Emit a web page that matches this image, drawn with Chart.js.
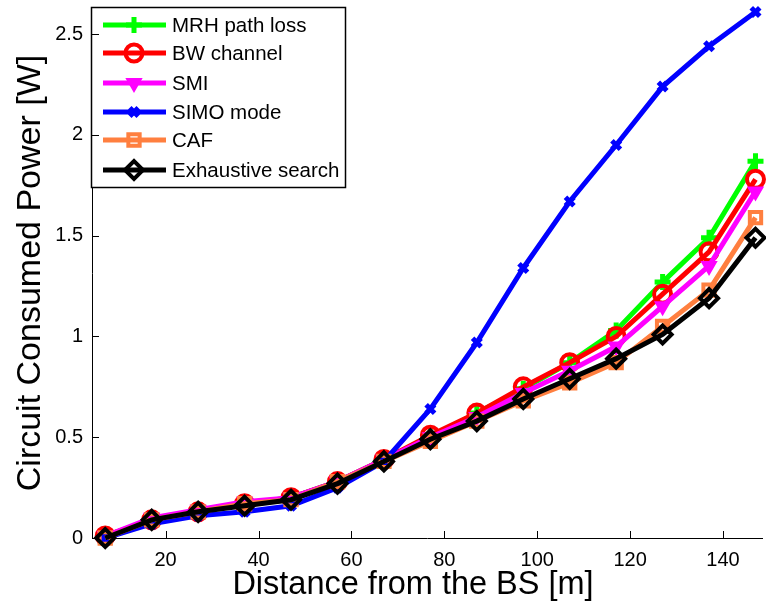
<!DOCTYPE html>
<html>
<head>
<meta charset="utf-8">
<script src="https://cdn.jsdelivr.net/npm/chart.js@4.4.1/dist/chart.umd.min.js"></script>
<style>
    body { margin: 0; background: #fff; }
    #wrap { width: 766px; height: 607px; }
</style>
</head>
<body>
<div id="wrap"><canvas id="power" width="766" height="607"></canvas></div>
<script>
// distance from the BS [m]
var distance = [7, 17, 27, 37, 47, 57, 67, 77, 87, 97, 107, 117, 127, 137, 147];

var mrhPathLoss = [0.01, 0.09, 0.13, 0.17, 0.20, 0.28, 0.39, 0.50, 0.62, 0.74, 0.87, 1.03, 1.27, 1.49, 1.87];
var bwChannel   = [0.01, 0.09, 0.13, 0.17, 0.20, 0.28, 0.39, 0.51, 0.62, 0.75, 0.87, 1.00, 1.21, 1.42, 1.78];
var smi         = [0.01, 0.10, 0.14, 0.18, 0.20, 0.28, 0.39, 0.50, 0.60, 0.72, 0.83, 0.95, 1.15, 1.35, 1.72];
var simoMode    = [0.00, 0.07, 0.11, 0.13, 0.16, 0.25, 0.38, 0.64, 0.97, 1.34, 1.67, 1.95, 2.24, 2.44, 2.61];
var caf         = [0.00, 0.09, 0.13, 0.17, 0.19, 0.28, 0.38, 0.48, 0.58, 0.68, 0.77, 0.87, 1.05, 1.23, 1.59];
var exhaustive  = [0.00, 0.09, 0.13, 0.16, 0.19, 0.27, 0.38, 0.49, 0.58, 0.69, 0.79, 0.89, 1.01, 1.19, 1.49];

var xTicks = [20, 40, 60, 80, 100, 120, 140];
var yTicks = [0, 0.5, 1, 1.5, 2, 2.5];

var xTitle = "Distance from the BS [m]";
var yTitle = "Circuit Consumed Power [W]";

var FONT = "'Liberation Sans', Arial, Helvetica, sans-serif";

function toPoints(ys) {
    return ys.map((y, i) => ({ x: distance[i], y: y }));
}

function series(label, values, color, style, extra) {
    var ds = {
        label: label,
        data: toPoints(values),
        borderColor: color,
        backgroundColor: color,
        borderWidth: 5,
        pointStyle: style,
        pointRadius: 8,
        pointBorderColor: color,
        pointBackgroundColor: "rgba(0,0,0,0)",
        pointBorderWidth: 3,
        tension: 0,
    };
    return Object.assign(ds, extra || {});
}

// legend drawn inside the axes, like the matlab one
var boxLegend = {
    id: "boxLegend",
    afterDatasetsDraw(chart) {
        var ctx = chart.ctx;
        var left = 91.5, top = 7.5, right = 345.5, bottom = 187.5;
        ctx.save();
        ctx.fillStyle = "#fff";
        ctx.fillRect(left, top, right - left, bottom - top);
        ctx.strokeStyle = "#000";
        ctx.lineWidth = 1.5;
        ctx.strokeRect(left, top, right - left, bottom - top);
        var rows = [25, 53, 83, 112, 140, 170];
        chart.data.datasets.forEach((ds, i) => {
            var y = rows[i];
            ctx.strokeStyle = ds.borderColor;
            ctx.lineWidth = ds.borderWidth;
            ctx.beginPath();
            ctx.moveTo(103, y);
            ctx.lineTo(166, y);
            ctx.stroke();
            ctx.fillStyle = ds.pointBackgroundColor;
            ctx.strokeStyle = ds.pointBorderColor;
            ctx.lineWidth = ds.pointBorderWidth;
            if (Chart.helpers && Chart.helpers.drawPoint) {
                Chart.helpers.drawPoint(ctx, {
                    pointStyle: ds.pointStyle,
                    radius: ds.pointRadius,
                    rotation: ds.pointRotation || 0,
                    borderWidth: ds.pointBorderWidth,
                }, 134, y);
            }
            ctx.fillStyle = "#000";
            ctx.font = "20.5px " + FONT;
            ctx.textBaseline = "middle";
            ctx.textAlign = "left";
            ctx.fillText(ds.label, 172, y + 1);
        });
        ctx.restore();
    },
};

// matlab style inward tick marks + x axis label
var axisExtras = {
    id: "axisExtras",
    afterDraw(chart) {
        var ctx = chart.ctx, area = chart.chartArea;
        var xs = chart.scales.x, ys = chart.scales.y;
        ctx.save();
        ctx.strokeStyle = "#000";
        ctx.lineWidth = 1;
        ctx.beginPath();
        xTicks.forEach((v) => {
            var px = Math.round(xs.getPixelForValue(v)) + 0.5;
            ctx.moveTo(px, area.bottom);
            ctx.lineTo(px, area.bottom - 7);
        });
        yTicks.forEach((v) => {
            var py = Math.round(ys.getPixelForValue(v)) + 0.5;
            ctx.moveTo(area.left, py);
            ctx.lineTo(area.left + 7, py);
        });
        ctx.stroke();
        ctx.fillStyle = "#000";
        ctx.font = "32.5px " + FONT;
        ctx.textAlign = "center";
        ctx.textBaseline = "middle";
        ctx.fillText(xTitle, 413, 585);
        ctx.restore();
    },
};

var ctx = document.getElementById("power").getContext("2d");
var myChart = new Chart(ctx, {
    type: "line",
    data: {
        datasets: [
            series("MRH path loss", mrhPathLoss, "#00ff00", "cross", { order: 5, pointRadius: 8, pointBorderWidth: 5 }),
            series("BW channel", bwChannel, "#ff0000", "circle", { order: 4, pointRadius: 8.5, pointBorderWidth: 4 }),
            series("SMI", smi, "#ff00ff", "triangle", { order: 3, pointRotation: 180, pointRadius: 8, pointBackgroundColor: "#ff00ff", pointBorderWidth: 2 }),
            series("SIMO mode", simoMode, "#0000ff", "crossRot", { order: 2, pointRadius: 6, pointBorderWidth: 5 }),
            series("CAF", caf, "#ff7f3f", "rect", { order: 1, pointRadius: 8, pointBorderWidth: 4 }),
            series("Exhaustive search", exhaustive, "#000000", "rectRot", { order: 0, pointRadius: 9, pointBorderWidth: 4 }),
        ],
    },
    options: {
        responsive: false,
        animation: false,
        clip: false,
        layout: { autoPadding: false, padding: { top: 8, right: 4, left: 0, bottom: 0 } },
        plugins: {
            legend: { display: false },
            tooltip: { enabled: false },
        },
        scales: {
            x: {
                type: "linear",
                min: 4.15,
                max: 148.4,
                afterFit: (scale) => {
                    scale.height = 69;
                    scale.paddingLeft = 0;
                    scale.paddingRight = 0;
                },
                afterBuildTicks: (scale) => { scale.ticks = xTicks.map((v) => ({ value: v })); },
                grid: { display: false, drawTicks: false },
                border: { display: true, color: "#000", width: 1 },
                ticks: {
                    color: "#000",
                    padding: 10,
                    maxRotation: 0,
                    font: { family: FONT, size: 20 },
                    callback: (v) => String(v),
                },
            },
            y: {
                min: 0,
                max: 2.63,
                afterFit: (scale) => {
                    scale.width = 92;
                    scale.paddingTop = 0;
                    scale.paddingBottom = 0;
                },
                afterBuildTicks: (scale) => { scale.ticks = yTicks.map((v) => ({ value: v })); },
                grid: { display: false, drawTicks: false },
                border: { display: true, color: "#000", width: 1 },
                ticks: {
                    color: "#000",
                    padding: 9,
                    font: { family: FONT, size: 20 },
                    callback: (v) => String(v),
                },
                title: {
                    display: true,
                    text: yTitle,
                    color: "#000",
                    font: { family: FONT, size: 34 },
                    padding: { top: 10, bottom: 0 },
                },
            },
        },
    },
    plugins: [axisExtras, boxLegend],
});
</script>
</body>
</html>
